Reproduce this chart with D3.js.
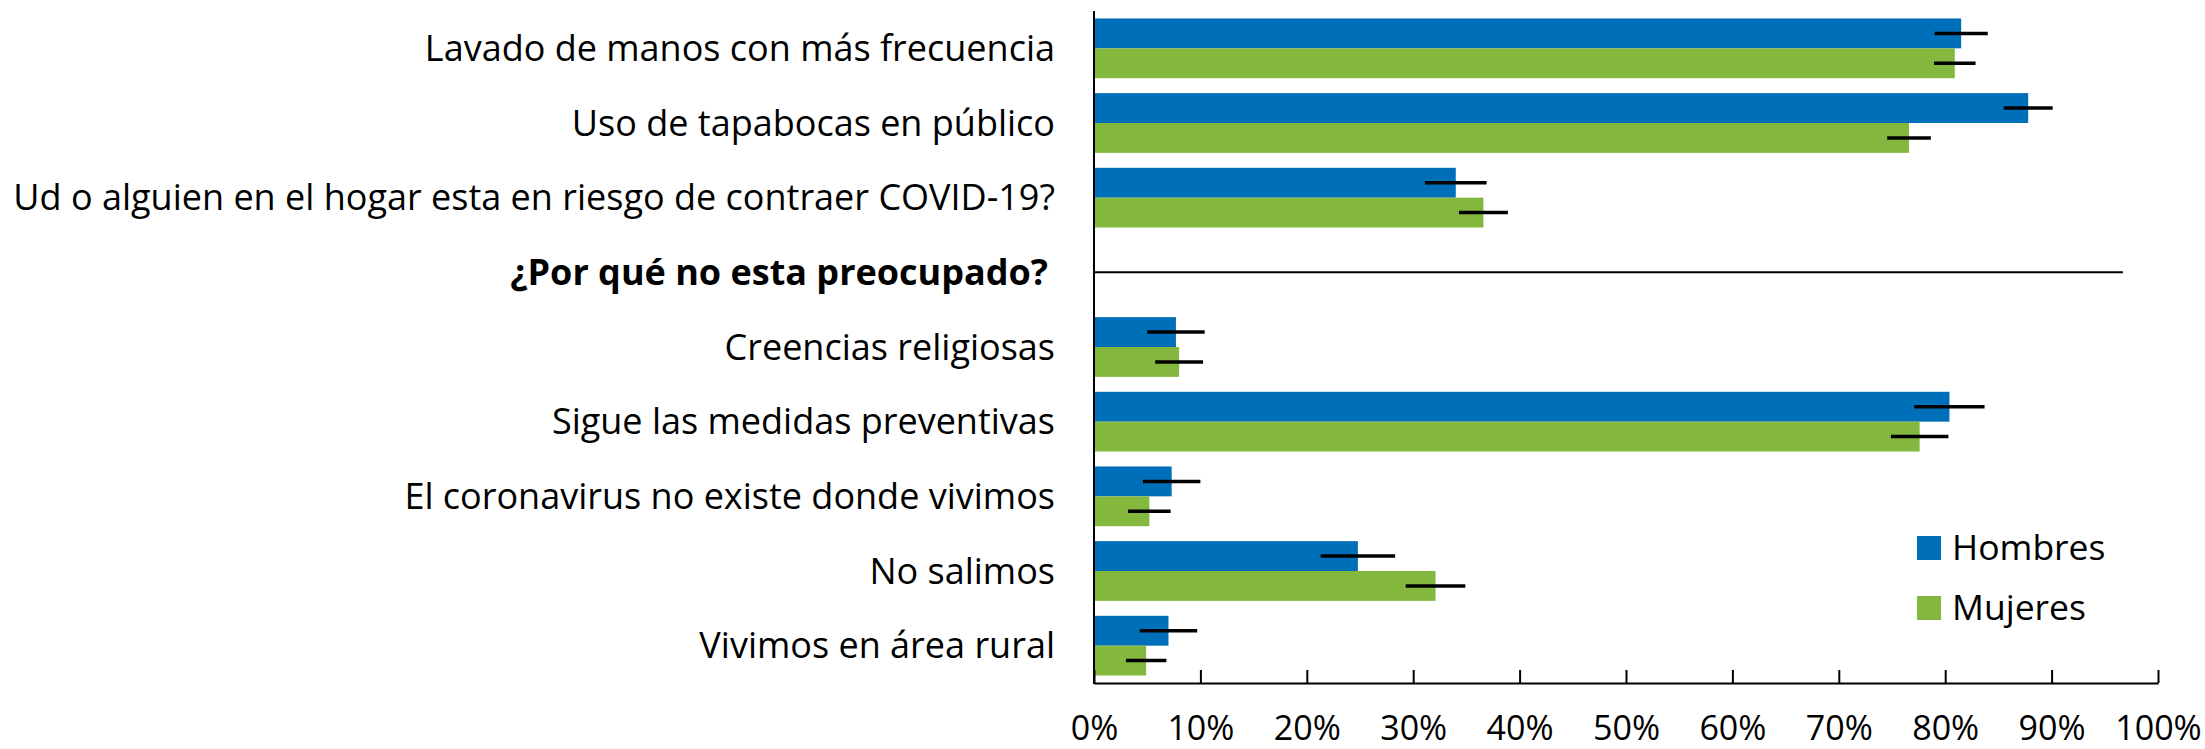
<!DOCTYPE html>
<html>
<head>
<meta charset="utf-8">
<script src="https://cdn.jsdelivr.net/npm/d3@7"></script>
<style>
    body { margin: 0; background: #fff; }
    text { font-family: "Open Sans", sans-serif; fill: #000; }
</style>
</head>
<body>
<svg id="chart"></svg>
<script>
// categories top to bottom, the 4th one is a header row without bars
const categories = [
    'Lavado de manos con más frecuencia',
    'Uso de tapabocas en público',
    'Ud o alguien en el hogar esta en riesgo de contraer COVID-19?',
    '¿Por qué no esta preocupado?',
    'Creencias religiosas',
    'Sigue las medidas preventivas',
    'El coronavirus no existe donde vivimos',
    'No salimos',
    'Vivimos en área rural'
];
const headerIndex = 3;

// percentages
const hombres    = [81.5, 87.8, 34.0, null, 7.7, 80.4, 7.3, 24.8, 7.0];
const mujeres    = [80.9, 76.6, 36.6, null, 8.0, 77.6, 5.2, 32.1, 4.9];
const errHombres = [2.5, 2.3, 2.9, null, 2.7, 3.3, 2.7, 3.5, 2.7];
const errMujeres = [1.95, 2.05, 2.3, null, 2.25, 2.7, 2.0, 2.8, 1.9];

const seriesNames = ['Hombres', 'Mujeres'];
const xTicks = [0, 10, 20, 30, 40, 50, 60, 70, 80, 90, 100];
const separatorEnd = 96.7;

class barChart {
    constructor(){
        this.width = 2205;
        this.height = 749;
        this.margin = {top: 11, left: 1094, right: 47, bottom: 66};
        this.colors = ['#006fba', '#84b73e'];
        this.labelSize = 36;
        this.tickSize = 34;
        this.legendSize = 35.5;
    }

    create_chart(svgElement){
        const m = this.margin;
        this.svg = d3.select(svgElement)
            .attr('width', this.width)
            .attr('height', this.height);

        this.x = d3.scaleLinear()
            .domain([0, 100])
            .range([m.left, this.width - m.right]);

        this.y = d3.scaleBand()
            .domain(categories)
            .range([m.top, this.height - m.bottom])
            .paddingInner(0.2)
            .paddingOuter(0.1);

        this.sub = d3.scaleBand()
            .domain(seriesNames)
            .range([0, this.y.bandwidth()]);

        return this;
    }

    draw_bars(){
        const x = this.x, y = this.y, sub = this.sub;
        const series = [
            {name: 'Hombres', values: hombres, err: errHombres, color: this.colors[0]},
            {name: 'Mujeres', values: mujeres, err: errMujeres, color: this.colors[1]}
        ];

        series.forEach(function(s){
            const rows = categories.map(function(c, i){
                return {cat: c, v: s.values[i], e: s.err[i]};
            }).filter(function(d){ return d.v !== null; });

            const g = this.svg.append('g');
            g.selectAll('rect')
                .data(rows)
                .enter().append('rect')
                .attr('x', x(0))
                .attr('y', function(d){ return y(d.cat) + sub(s.name); })
                .attr('width', function(d){ return x(d.v) - x(0); })
                .attr('height', sub.bandwidth())
                .attr('fill', s.color);

            // error bars
            g.selectAll('line')
                .data(rows)
                .enter().append('line')
                .attr('x1', function(d){ return x(d.v - d.e); })
                .attr('x2', function(d){ return x(d.v + d.e); })
                .attr('y1', function(d){ return y(d.cat) + sub(s.name) + sub.bandwidth()/2; })
                .attr('y2', function(d){ return y(d.cat) + sub(s.name) + sub.bandwidth()/2; })
                .attr('stroke', '#000')
                .attr('stroke-width', 3.5);
        }, this);
    }

    draw_axes(){
        const x = this.x, y = this.y;
        const bottom = this.height - this.margin.bottom;

        // category labels
        this.svg.append('g')
            .selectAll('text')
            .data(categories)
            .enter().append('text')
            .attr('x', function(d, i){ return i === headerIndex ? x(0) - 46 : x(0) - 39; })
            .attr('y', function(d){ return y(d) + y.bandwidth()/2; })
            .attr('dy', '0.35em')
            .attr('text-anchor', 'end')
            .style('font-size', this.labelSize + 'px')
            .style('font-weight', function(d, i){ return i === headerIndex ? 700 : 400; })
            .text(function(d){ return d; });

        // separator at header row
        const hy = y(categories[headerIndex]) + y.bandwidth()/2;
        this.svg.append('line')
            .attr('x1', x(0)).attr('x2', x(separatorEnd))
            .attr('y1', hy).attr('y2', hy)
            .attr('stroke', '#000')
            .attr('stroke-width', 2);

        // x axis, ticks point inward
        const axis = this.svg.append('g')
            .attr('transform', 'translate(0,' + bottom + ')')
            .call(d3.axisBottom(x)
                .tickValues(xTicks)
                .tickSizeInner(-13)
                .tickSizeOuter(0)
                .tickPadding(0)
                .tickFormat(function(d){ return d + '%'; }));
        axis.select('.domain').attr('stroke', '#000').attr('stroke-width', 2);
        axis.selectAll('.tick line').attr('stroke', '#000').attr('stroke-width', 2);
        axis.selectAll('.tick text')
            .attr('y', 56.5)
            .attr('dy', null)
            .style('font-size', this.tickSize + 'px')
            .style('font-family', '"Open Sans", sans-serif')
            .attr('fill', '#000');

        // y axis line
        this.svg.append('line')
            .attr('x1', x(0)).attr('x2', x(0))
            .attr('y1', this.margin.top).attr('y2', bottom + 1)
            .attr('stroke', '#000')
            .attr('stroke-width', 2);
    }

    add_legend(){
        const colors = this.colors;
        const legend = this.svg.append('g')
            .attr('transform', 'translate(1917,536)');

        const item = legend.selectAll('g')
            .data(seriesNames)
            .enter().append('g')
            .attr('transform', function(d, i){ return 'translate(0,' + i*60 + ')'; });

        item.append('rect')
            .attr('width', 24).attr('height', 24)
            .attr('fill', function(d, i){ return colors[i]; });

        item.append('text')
            .attr('x', 35)
            .attr('y', 12)
            .attr('dy', '0.35em')
            .style('font-size', this.legendSize + 'px')
            .text(function(d){ return d; });
    }
}

let chart = new barChart().create_chart('#chart');
chart.draw_bars();
chart.draw_axes();
chart.add_legend();
</script>
</body>
</html>
